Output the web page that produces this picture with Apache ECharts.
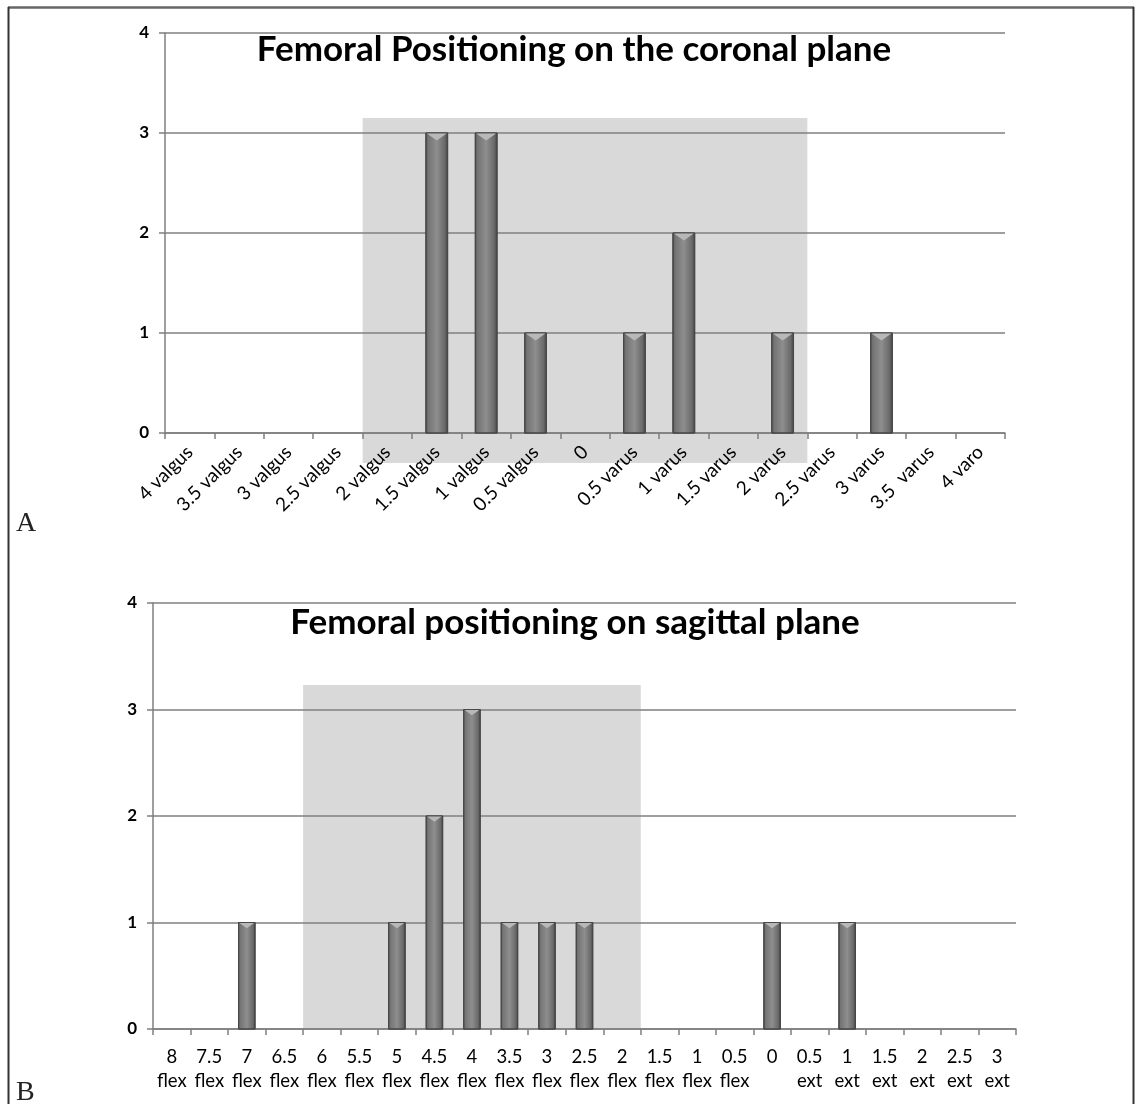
<!DOCTYPE html>
<html>
<head>
<meta charset="utf-8">
<script src="https://cdn.jsdelivr.net/npm/echarts@6/dist/echarts.min.js"></script>
<style>
html,body{margin:0;padding:0;background:#fff;}
#c{width:1135px;height:1104px;}
</style>
</head>
<body>
<div id="c"></div>
<script>
// ---- Data ----
const titleA = 'Femoral Positioning on the coronal plane';
const categoriesA = ['4 valgus','3.5 valgus','3 valgus','2.5 valgus','2 valgus','1.5 valgus','1 valgus','0.5 valgus','0','0.5 varus','1 varus','1.5 varus','2 varus','2.5 varus','3 varus','3.5  varus','4 varo'];
const valuesA = [0,0,0,0,0,3,3,1,0,1,2,0,1,0,1,0,0];

const titleB = 'Femoral positioning on sagittal plane';
const categoriesB = ['8 flex','7.5 flex','7 flex','6.5 flex','6 flex','5.5 flex','5 flex','4.5 flex','4 flex','3.5 flex','3 flex','2.5 flex','2 flex','1.5 flex','1 flex','0.5 flex','0','0.5 ext','1 ext','1.5 ext','2 ext','2.5 ext','3 ext'];
const valuesB = [0,0,1,0,0,0,1,2,3,1,1,1,0,0,0,0,1,0,1,0,0,0,0];

const yMin = 0, yMax = 4, yStep = 1;
// shaded highlight ranges: [first category, last category, upper value, lower value]
const shadeA = ['2 valgus','2 varus',3.15,-0.3];
const shadeB = ['6 flex','2 flex',3.23,0];

// ---- Chart ----
const chart = echarts.init(document.getElementById('c'), null, {renderer:'canvas'});
const axisGray = '#7f7f7f';
const labelFont = 'Lato, "Open Sans", sans-serif';

function renderBar(params, api){
  const v = api.value(1);
  if (!v) return null;
  const idx = api.value(0);
  const top = api.coord([idx, v]);
  const base = api.coord([idx, 0]);
  const w = api.size([1,0])[0] * 0.44;
  const x = top[0] - w/2;
  const h = base[1] - top[1];
  return {
    type:'group',
    children:[
      {type:'rect', shape:{x:x, y:top[1], width:w, height:h},
       style:{fill:{type:'linear',x:0,y:0,x2:1,y2:0,colorStops:[
         {offset:0,color:'#505050'},{offset:0.12,color:'#747474'},
         {offset:0.5,color:'#8e8e8e'},{offset:0.85,color:'#6a6a6a'},{offset:1,color:'#424242'}]},
         stroke:'#474747', lineWidth:1}},
      {type:'polygon', shape:{points:[[x+1,top[1]+0.5],[x+w-1,top[1]+0.5],[top[0],top[1]+w*0.35]]},
       style:{fill:'#b8b8b8'}}
    ]
  };
}

function yAxisCfg(gi){
  return {
    type:'value', gridIndex:gi, min:yMin, max:yMax, interval:yStep,
    axisLine:{show:true, lineStyle:{color:axisGray, width:1.5}},
    axisTick:{show:true, length:6, lineStyle:{color:axisGray, width:1.5}},
    splitLine:{show:true, lineStyle:{color:axisGray, width:1.5}},
    axisLabel:{color:'#000', fontSize:17, fontWeight:'bold', fontFamily:labelFont, margin:16}
  };
}

chart.setOption({
  animation:false,
  backgroundColor:'#ffffff',
  grid:[
    {left:165, top:33, width:840, height:400},
    {left:153, top:603, width:863, height:426}
  ],
  xAxis:[
    {type:'category', gridIndex:0, data:categoriesA, boundaryGap:true,
     axisLine:{show:true, lineStyle:{color:axisGray, width:1.5}},
     axisTick:{show:true, interval:0, length:6, lineStyle:{color:axisGray, width:1.5}},
     axisLabel:{interval:0, rotate:45, margin:16, color:'#000', fontSize:19, fontFamily:labelFont}},
    {type:'category', gridIndex:1, data:categoriesB, boundaryGap:true,
     axisLine:{show:true, lineStyle:{color:axisGray, width:1.5}},
     axisTick:{show:true, interval:0, length:6, lineStyle:{color:axisGray, width:1.5}},
     axisLabel:{interval:0, margin:16, color:'#000', fontSize:18.5, lineHeight:24, fontFamily:labelFont,
       formatter:function(v){ return v.replace(' ', '\n'); }}}
  ],
  yAxis:[yAxisCfg(0), yAxisCfg(1)],
  series:[
    {type:'custom', xAxisIndex:0, yAxisIndex:0, renderItem:renderBar, encode:{x:0,y:1}, z:5,
     data:valuesA.map(function(v,i){return [i,v];})},
    {type:'custom', xAxisIndex:1, yAxisIndex:1, renderItem:renderBar, encode:{x:0,y:1}, z:5,
     data:valuesB.map(function(v,i){return [i,v];})}
  ]
});

function shadeRect(shade, cats, gi){
  const i0 = cats.indexOf(shade[0]);
  const i1 = cats.indexOf(shade[1]);
  const p0 = chart.convertToPixel({gridIndex:gi}, [i0, shade[2]]);
  const p1 = chart.convertToPixel({gridIndex:gi}, [i1, shade[3]]);
  const pNext = chart.convertToPixel({gridIndex:gi}, [i0+1, 0]);
  const band = pNext[0] - p0[0];
  const x0 = p0[0] - band/2, x1 = p1[0] + band/2;
  return {type:'rect', z:-10, silent:true,
    shape:{x:x0, y:p0[1], width:x1-x0, height:p1[1]-p0[1]},
    style:{fill:'#d9d9d9'}};
}

const titleFont = 'bold 35px Lato, "Open Sans", sans-serif';
chart.setOption({
  graphic:[
    shadeRect(shadeA, categoriesA, 0),
    shadeRect(shadeB, categoriesB, 1),
    {type:'text', z:10, x:574, y:32, style:{text:titleA, font:titleFont, fill:'#000', textAlign:'center', textVerticalAlign:'top'}},
    {type:'text', z:10, x:575, y:605, style:{text:titleB, font:titleFont, fill:'#000', textAlign:'center', textVerticalAlign:'top'}},
    {type:'text', z:10, x:16, y:510, style:{text:'A', font:'28px "Liberation Serif", "DejaVu Serif", serif', fill:'#222', textVerticalAlign:'top'}},
    {type:'text', z:10, x:16, y:1079, style:{text:'B', font:'28px "Liberation Serif", "DejaVu Serif", serif', fill:'#222', textVerticalAlign:'top'}},
    {type:'line', z:10, shape:{x1:8, y1:7.5, x2:1134, y2:7.5}, style:{stroke:'#666', lineWidth:2.5}},
    {type:'line', z:10, shape:{x1:8.5, y1:7, x2:8.5, y2:1104}, style:{stroke:'#333', lineWidth:2}},
    {type:'line', z:10, shape:{x1:1133.5, y1:7, x2:1133.5, y2:1104}, style:{stroke:'#333', lineWidth:2}}
  ]
});
</script>
</body>
</html>
